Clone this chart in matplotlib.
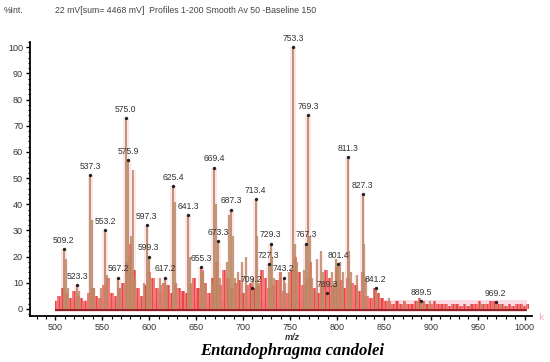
import matplotlib
matplotlib.use('Agg')
import numpy as np
import matplotlib.pyplot as plt
from matplotlib.ticker import MultipleLocator

# labelled peaks (m/z, % intensity)
peak_mz = [509.2, 523.3, 537.3, 553.2, 567.2, 575.0, 577.9, 597.3, 599.3, 617.2,
           625.4, 641.3, 655.3, 669.4, 673.3, 687.3, 709.2, 713.4, 727.3, 729.3,
           743.2, 753.3, 767.3, 769.3, 789.3, 801.4, 811.3, 827.3, 841.2, 889.5, 969.2]
peak_int = [23, 9, 51, 30, 12, 73, 57, 32, 20, 12,
            47, 36, 16, 54, 26, 38, 8, 42, 17, 25,
            12, 100, 25, 74, 6, 17, 58, 44, 8, 3, 2.5]
peak_labels = ['509.2', '523.3', '537.3', '553.2', '567.2', '575.0', '575.9', '597.3', '599.3', '617.2',
               '625.4', '641.3', '655.3', '669.4', '673.3', '687.3', '709.2', '713.4', '727.3', '729.3',
               '743.2', '753.3', '767.3', '769.3', '789.3', '801.4', '811.3', '827.3', '841.2', '889.5', '969.2']

# unlabelled sticks
minor_mz = [511, 513, 525, 539, 541, 549, 555, 569, 579, 581, 583, 585, 595, 601,
            611, 613, 619, 627, 629, 643, 645, 657, 659, 667, 671, 675, 683, 685,
            689, 691, 695, 699, 703, 711, 715, 717, 731, 733, 739, 745, 749, 755,
            757, 765, 771, 773, 779, 783, 785, 795, 797, 799, 803, 807, 813, 815,
            821, 829, 831, 843, 855, 871, 885, 893, 899, 955, 975]
minor_int = [19, 8, 7, 34, 8, 8, 13, 8, 20, 28, 53, 12, 10, 12,
             12, 9, 9, 41, 10, 20, 10, 14, 10, 10, 40, 12, 18, 36,
             28, 12, 14, 18, 20, 12, 28, 10, 20, 12, 14, 10, 14, 25,
             18, 15, 28, 12, 19, 22, 14, 14, 10, 19, 18, 14, 22, 14,
             13, 25, 12, 6, 4, 3, 3, 3, 3, 2, 2]

# red noise profile, every 4 m/z from 500
noise_start = 500
noise_step = 4
noise_int = [3, 5, 8, 6, 4, 7, 5, 4, 3, 6, 8, 5, 4,
             9, 12, 6, 5, 8, 10, 18, 25, 15, 8, 5, 9, 14,
             12, 8, 7, 10, 9, 6, 10, 8, 7, 6, 9, 12, 8,
             15, 10, 6, 12, 18, 9, 15, 12, 8, 10, 11, 6, 9,
             10, 8, 9, 15, 12, 8, 9, 11, 14, 7, 6, 15, 20,
             14, 9, 12, 18, 8, 6, 10, 15, 12, 9, 16, 11, 8,
             12, 10, 9, 7, 14, 5, 4, 8, 6, 4, 3, 3, 2,
             3, 2, 3, 2, 2, 3, 4, 3, 2, 2, 3, 2, 2,
             2, 1, 2, 2, 1, 2, 1, 2, 2, 3, 2, 2, 3,
             3, 2, 2, 1, 2, 1, 2, 2, 1, 2]

noise_mz = noise_start + noise_step * np.arange(len(noise_int))

fig = plt.figure(figsize=(5.5, 3.62), dpi=100)
ax = fig.add_axes([0.0545, 0.127, 0.913, 0.757])

pink = '#fbd3dd'
brown = '#bb8c66'

# pink shading
ax.axhspan(-1.2, 3.5, xmin=(500 - 473) / (1008 - 473), xmax=(1003 - 473) / (1008 - 473),
           color=pink, alpha=0.8, lw=0, zorder=0)
ax.bar(peak_mz, peak_int, width=6, color=pink, alpha=0.6, lw=0, zorder=1)
ax.bar(minor_mz, minor_int, width=5, color=pink, alpha=0.45, lw=0, zorder=1)

# red noise
ax.fill_between(noise_mz, 0, noise_int, step='mid', color='#ef5b5b', alpha=0.8, lw=0, zorder=2)
ax.bar(noise_mz, noise_int, width=1.2, color='#e84848', lw=0, zorder=2)

# sticks
ax.vlines(minor_mz, 0, minor_int, color=brown, lw=1.2, zorder=3)
ax.vlines(peak_mz, 0, peak_int, color=brown, lw=1.3, zorder=4)
ax.plot(peak_mz, peak_int, 'o', ms=1.4, color='#222222', zorder=5)

# baseline
ax.hlines(-0.4, 500, 1003, color='#8b1010', lw=1.3, zorder=6)

for mz, h, lab in zip(peak_mz, peak_int, peak_labels):
    ax.annotate(lab, (mz, h), xytext=(0, 3), textcoords='offset points',
                ha='center', va='bottom', fontsize=6.2, color='#333333',
                family='Liberation Sans', zorder=7)

ax.set_xlim(473, 1008)
ax.set_ylim(-2.7, 102)
ax.set_xticks(np.arange(500, 1001, 50))
ax.set_yticks(np.arange(0, 101, 10))
ax.xaxis.set_minor_locator(MultipleLocator(10))
ax.yaxis.set_minor_locator(MultipleLocator(2))
ax.tick_params(which='major', length=3, width=1, labelsize=6.5, labelcolor='#333333',
               pad=2)
ax.tick_params(which='minor', length=1.8, width=0.8)
for lab in ax.get_xticklabels() + ax.get_yticklabels():
    lab.set_family('Liberation Sans')
for s in ['top', 'right']:
    ax.spines[s].set_visible(False)
for s in ['left', 'bottom']:
    ax.spines[s].set_linewidth(1.3)

fig.text(0.006, 0.965, '%Int.', fontsize=6.3, color='#444444', family='Liberation Sans')
fig.text(0.1, 0.965, '22 mV[sum= 4468 mV]  Profiles 1-200 Smooth Av 50 -Baseline 150',
         fontsize=6.3, color='#444444', family='Liberation Sans')
fig.text(292 / 550, 1 - 338 / 362, 'm/z', fontsize=6.5, style='italic', weight='bold',
         color='#333333', ha='center', va='center', family='Liberation Sans')
fig.text(292 / 550, 1 - 351 / 362, 'Entandophragma candolei', fontsize=12,
         style='italic', weight='bold', ha='center', va='center', family='Liberation Serif')
fig.text(538 / 550, 1 - 317 / 362, 'k', fontsize=6.5, color='#f4a6b6', va='center')

fig.savefig('out.png', dpi=100)
